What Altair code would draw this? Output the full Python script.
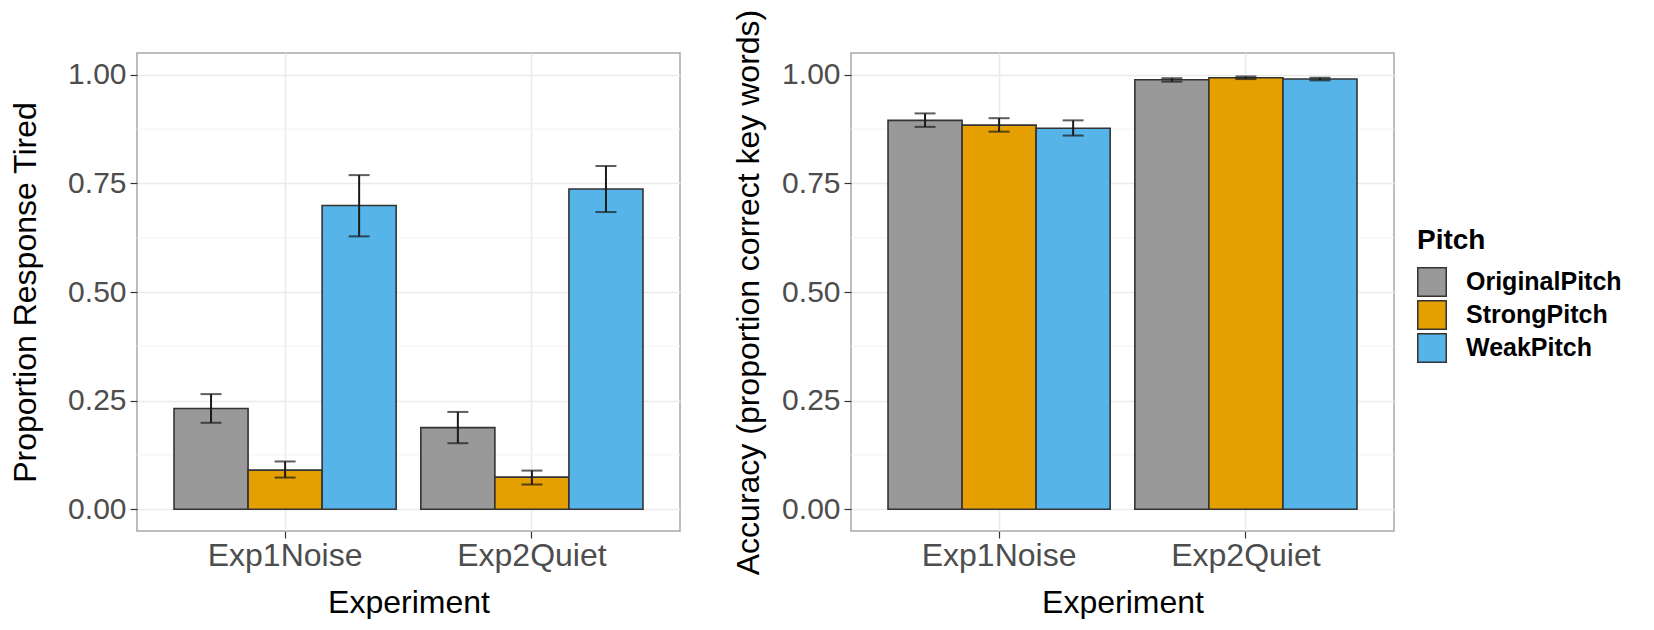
import altair as alt
import pandas as pd

experiments = ["Exp1Noise", "Exp2Quiet"]
pitches = ["OriginalPitch", "StrongPitch", "WeakPitch"]
colors = ["#999999", "#E69F00", "#56B4E9"]

# Left panel: proportion of "tired" responses (rows: experiments, cols: pitches)
tired_mean = [[0.232, 0.090, 0.699], [0.188, 0.074, 0.737]]
tired_lo = [[0.199, 0.073, 0.628], [0.152, 0.057, 0.684]]
tired_hi = [[0.265, 0.110, 0.769], [0.224, 0.089, 0.790]]

# Right panel: accuracy
acc_mean = [[0.895, 0.884, 0.877], [0.9885, 0.993, 0.990]]
acc_lo = [[0.880, 0.869, 0.860], [0.984, 0.990, 0.987]]
acc_hi = [[0.911, 0.900, 0.895], [0.992, 0.996, 0.993]]

y_ticks = [0, 0.25, 0.5, 0.75, 1.0]
minor_ticks = [0.125, 0.375, 0.625, 0.875]

FONT = "Liberation Sans"
W, H = 543, 478


def make_df(mean, lo, hi):
    rows = []
    for i, e in enumerate(experiments):
        for j, p in enumerate(pitches):
            rows.append({"Experiment": e, "Pitch": p, "mean": mean[i][j],
                         "lo": lo[i][j], "hi": hi[i][j]})
    return pd.DataFrame(rows)


minor_df = pd.DataFrame({"v": minor_ticks})


def panel(df, ytitle, title_pad):
    yscale = alt.Scale(domain=[-0.05, 1.05], nice=False, zero=False)
    yaxis = alt.Axis(values=y_ticks, format=".2f", title=ytitle,
                     titlePadding=title_pad)
    x = alt.X("Experiment:N", sort=experiments, title="Experiment",
              scale=alt.Scale(paddingInner=0.1, paddingOuter=0.15),
              axis=alt.Axis(labelAngle=0, bandPosition=0.5, labelFontSize=32,
                            labelPadding=2))
    xo = alt.XOffset("Pitch:N", sort=pitches,
                     scale=alt.Scale(paddingInner=0, paddingOuter=0))
    base = alt.Chart(df)
    minor = alt.Chart(minor_df).mark_rule(color="#F3F3F3", strokeWidth=1).encode(
        y=alt.Y("v:Q", scale=yscale, axis=yaxis)
    )
    bars = base.mark_bar(stroke="#333333", strokeWidth=1.6).encode(
        x=x, xOffset=xo,
        y=alt.Y("mean:Q", scale=yscale, axis=yaxis),
        y2=alt.datum(0),
        fill=alt.Fill("Pitch:N", sort=pitches,
                      scale=alt.Scale(domain=pitches, range=colors),
                      legend=alt.Legend(
                          title="Pitch", orient="none",
                          legendX=1280, legendY=174,
                          symbolType="square", symbolSize=810,
                          symbolStrokeColor="#333333", symbolStrokeWidth=1.5,
                          symbolOpacity=1, labelLimit=400,
                          labelFontSize=25, labelFontWeight="bold",
                          labelColor="#000000",
                          titleFontSize=28, titleFontWeight="bold",
                          titleColor="#000000",
                          rowPadding=-4, labelOffset=19, titlePadding=12)),
    )
    err = base.mark_rule(color="#1A1A1A", strokeWidth=2).encode(
        x=x, xOffset=xo,
        y=alt.Y("lo:Q", scale=yscale, axis=yaxis), y2="hi:Q",
    )
    cap_lo = base.mark_tick(color="#1A1A1A", size=21, thickness=2,
                            orient="horizontal").encode(
        x=x, xOffset=xo, y=alt.Y("lo:Q", scale=yscale, axis=yaxis))
    cap_hi = base.mark_tick(color="#1A1A1A", size=21, thickness=2,
                            orient="horizontal").encode(
        x=x, xOffset=xo, y=alt.Y("hi:Q", scale=yscale, axis=yaxis))
    return alt.layer(minor, bars, err, cap_lo, cap_hi).properties(width=W, height=H)


left = panel(make_df(tired_mean, tired_lo, tired_hi), "Proportion Response Tired", 25)
right = panel(make_df(acc_mean, acc_lo, acc_hi), "Accuracy (proportion correct key words)", 16)

chart = alt.hconcat(left, right, spacing=49).resolve_scale(
    x="independent", y="independent", fill="shared"
).properties(
    padding={"left": 0, "top": 0, "right": 0, "bottom": 0}
).configure(font=FONT).configure_view(
    stroke="#A8A8A8", strokeWidth=1.5
).configure_axis(
    grid=True, gridColor="#EBEBEB", gridWidth=1.6,
    domain=False, tickColor="#333333", tickSize=7, tickWidth=1.2,
    labelFontSize=30, labelColor="#4D4D4D", labelPadding=4,
    titleFontSize=32, titleFontWeight="normal", titleColor="#000000",
).configure_axisX(titlePadding=16).configure_axisY(labelPadding=4)

chart.save("out.html", embed_options={"renderer": "svg", "actions": False})
